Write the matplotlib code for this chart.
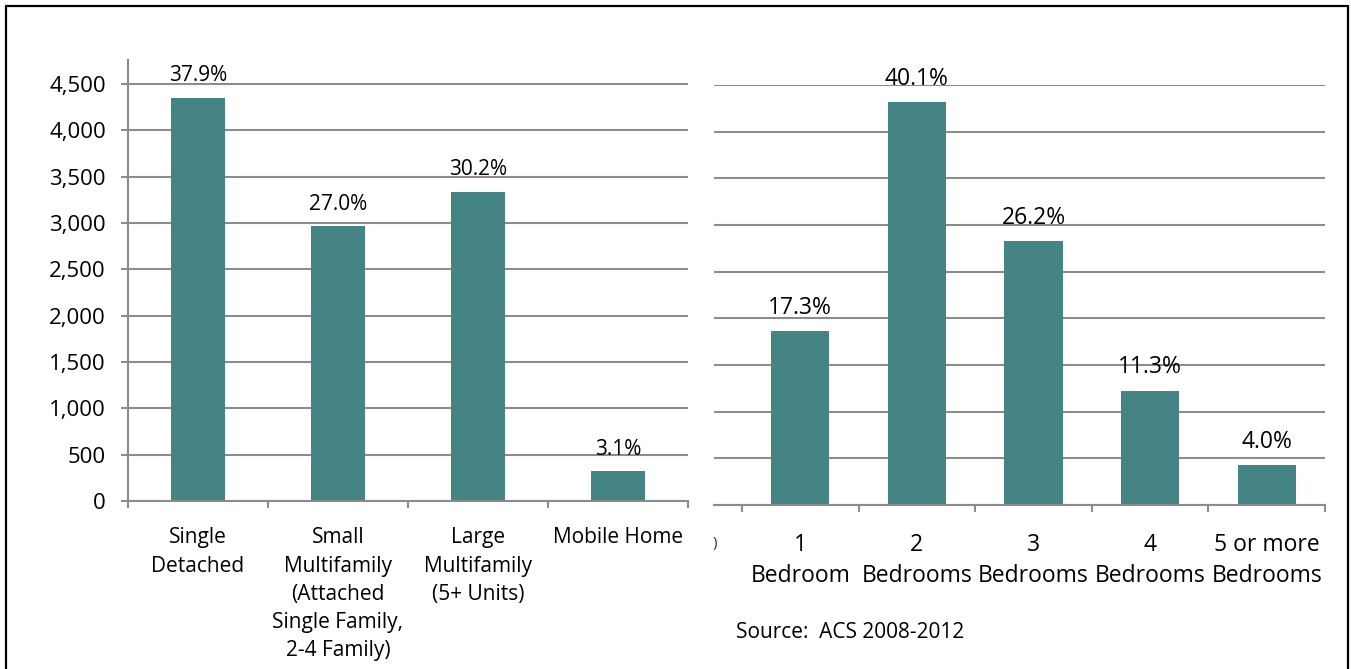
import matplotlib.pyplot as plt
from matplotlib.patches import Rectangle

# Housing units by structure type (left panel)
structure_types = ['Single\nDetached',
                   'Small\nMultifamily\n(Attached\nSingle Family,\n2-4 Family)',
                   'Large\nMultifamily\n(5+ Units)',
                   'Mobile Home']
structure_units = [4355, 2965, 3340, 320]
structure_pct = ['37.9%', '27.0%', '30.2%', '3.1%']

# Housing units by number of bedrooms (right panel)
bedroom_types = ['1\nBedroom', '2\nBedrooms', '3\nBedrooms', '4\nBedrooms', '5 or more\nBedrooms']
bedroom_units = [1860, 4315, 2825, 1225, 425]
bedroom_pct = ['17.3%', '40.1%', '26.2%', '11.3%', '4.0%']

y_ticks = list(range(0, 4501, 500))
y_tick_labels = [f'{v:,}' for v in y_ticks]
source_note = 'Source:  ACS 2008-2012'

BAR_COLOR = '#448484'
GRID_COLOR = '#8c8c8c'

plt.rcParams['font.family'] = ['Open Sans', 'DejaVu Sans']

W, H = 1351, 669
fig = plt.figure(figsize=(W / 100, H / 100), dpi=100)


def px_axes(x0, y0, x1, y1):
    """Add axes from pixel box (top-left origin)."""
    return fig.add_axes([x0 / W, 1 - y1 / H, (x1 - x0) / W, (y1 - y0) / H])


def style_axes(ax, n, fontsize):
    ax.set_axisbelow(True)
    ax.yaxis.grid(True, color=GRID_COLOR, linewidth=1.5)
    for side in ['top', 'right']:
        ax.spines[side].set_visible(False)
    ax.spines['bottom'].set_color(GRID_COLOR)
    ax.spines['bottom'].set_linewidth(1.5)
    ax.spines['left'].set_color(GRID_COLOR)
    ax.spines['left'].set_linewidth(1.5)
    # category boundaries as minor ticks
    ax.set_xticks([i - 0.5 for i in range(n + 1)], minor=True)
    ax.tick_params(axis='x', which='minor', length=5, width=1.5, color=GRID_COLOR, direction='out')
    ax.tick_params(axis='x', which='major', length=0, labelsize=fontsize)


# Left panel
ax1 = px_axes(128, 60, 688, 501)
x1 = list(range(len(structure_types)))
ax1.bar(x1, structure_units, width=0.38, color=BAR_COLOR)
ax1.set_xlim(-0.5, 3.5)
ax1.set_ylim(0, 4760)
style_axes(ax1, len(structure_types), 15)
ax1.set_xticks(x1)
ax1.set_xticklabels(structure_types, va='top')
ax1.tick_params(axis='x', which='major', pad=19)
for lbl in ax1.get_xticklabels():
    lbl.set_linespacing(1.45)
ax1.set_yticks(y_ticks)
ax1.set_yticklabels(y_tick_labels)
ax1.tick_params(axis='y', length=5, width=1.5, color=GRID_COLOR, labelsize=16, pad=11)
for i, v in enumerate(structure_units):
    ax1.annotate(structure_pct[i], (i, v), xytext=(0, 16), textcoords='offset points',
                 ha='center', va='center', fontsize=15)

# Right panel (left edge cropped like the original)
ax2 = px_axes(714, 85, 1325, 505)
x2 = list(range(len(bedroom_types)))
ax2.bar(x2, bedroom_units, width=0.5, color=BAR_COLOR)
ax2.set_xlim(-0.74, 4.5)
ax2.set_ylim(0, 4500)
style_axes(ax2, len(bedroom_types), 16.5)
ax2.spines['left'].set_visible(False)
ax2.set_xticks(x2)
ax2.set_xticklabels(bedroom_types, va='top')
ax2.tick_params(axis='x', which='major', pad=20)
for lbl in ax2.get_xticklabels():
    lbl.set_linespacing(1.38)
ax2.set_yticks(y_ticks)
ax2.tick_params(axis='y', left=False, labelleft=False)
for i, v in enumerate(bedroom_units):
    ax2.annotate(bedroom_pct[i], (i, v), xytext=(0, 17), textcoords='offset points',
                 ha='center', va='center', fontsize=16.5)

# clipped fragment of the hidden first label
fig.text(713 / W, 1 - 543 / H, ')', fontsize=11, ha='left', va='center', color='#333333')

fig.text(736 / W, 1 - 633 / H, source_note, fontsize=15, ha='left', va='center')

# outer frame
fig.add_artist(Rectangle((6 / W, -0.05), (1348 - 6) / W, 1.05 - 6 / H,
                         transform=fig.transFigure, fill=False, edgecolor='black',
                         linewidth=1.6, clip_on=False))

fig.savefig('out.png', dpi=100)
